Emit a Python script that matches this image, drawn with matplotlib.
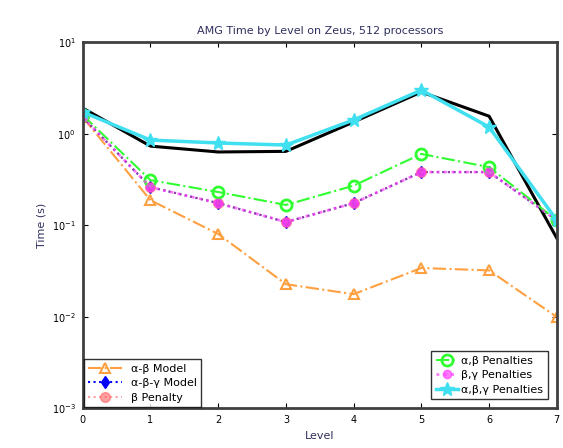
import numpy as np
import matplotlib.pyplot as plt

# AMG time per level
levels = [0, 1, 2, 3, 4, 5, 6, 7]
measured = [1.90, 0.73, 0.63, 0.64, 1.34, 2.85, 1.55, 0.072]
ab_model = [1.51, 0.187, 0.080, 0.0226, 0.0176, 0.034, 0.032, 0.0099]
abg_model = [1.51, 0.26, 0.174, 0.108, 0.174, 0.38, 0.38, 0.113]
b_penalty = [1.51, 0.26, 0.174, 0.108, 0.174, 0.38, 0.38, 0.113]
ab_penalties = [1.59, 0.31, 0.23, 0.166, 0.27, 0.60, 0.43, 0.113]
bg_penalties = [1.51, 0.26, 0.174, 0.108, 0.174, 0.38, 0.38, 0.113]
abg_penalties = [1.72, 0.85, 0.79, 0.75, 1.41, 2.99, 1.18, 0.113]

fig = plt.figure(figsize=(5.63, 4.48), dpi=100)
ax = fig.add_axes([0.147, 0.089, 0.842, 0.817])

ax.plot(levels, measured, color='black', lw=2.2)
h1, = ax.plot(levels, ab_model, color='#ffa040', ls='-.', marker='^', ms=7,
              mfc='none', mew=1.5, label='\u03b1-\u03b2 Model')
h2, = ax.plot(levels, abg_model, color='blue', ls=':', marker='d', ms=6,
              label='\u03b1-\u03b2-\u03b3 Model')
h3, = ax.plot(levels, b_penalty, color='#ff6060', ls=':', marker='o', ms=7,
              alpha=0.6, label='\u03b2 Penalty')
h4, = ax.plot(levels, ab_penalties, color='#30ff30', ls='-.', marker='o', ms=8,
              mfc='none', mew=2, label='\u03b1,\u03b2 Penalties')
h5, = ax.plot(levels, bg_penalties, color='#ff40ff', ls=':', marker='o', ms=6,
              lw=2, alpha=0.7, label='\u03b2,\u03b3 Penalties')
h6, = ax.plot(levels, abg_penalties, color='#40e0f0', ls='-', marker='*', ms=10,
              lw=2.5, label='\u03b1,\u03b2,\u03b3 Penalties')

ax.set_yscale('log')
ax.set_ylim(1e-3, 1e1)
ax.set_xlim(0, 7)
ax.set_xticks(levels)
ax.tick_params(direction='in', which='both', top=True, right=True, labelsize=7, pad=5)
ax.minorticks_off()
for s in ax.spines.values():
    s.set_linewidth(2)
    s.set_color('#404040')

ax.set_title('AMG Time by Level on Zeus, 512 processors', fontsize=8, color='#303060')
ax.set_xlabel('Level', fontsize=8, color='#303060')
ax.set_ylabel('Time (s)', fontsize=8, color='#303060')

leg1 = ax.legend(handles=[h1, h2, h3], loc='lower left', fontsize=8,
                 fancybox=False, edgecolor='black', borderaxespad=0.1,
                 handlelength=3, labelspacing=0.4)
ax.add_artist(leg1)
ax.legend(handles=[h4, h5, h6], loc='lower right', fontsize=8,
          fancybox=False, edgecolor='black', borderaxespad=0.8,
          handlelength=2, handletextpad=0.3, labelspacing=0.4)

fig.savefig('out.png', dpi=100)
